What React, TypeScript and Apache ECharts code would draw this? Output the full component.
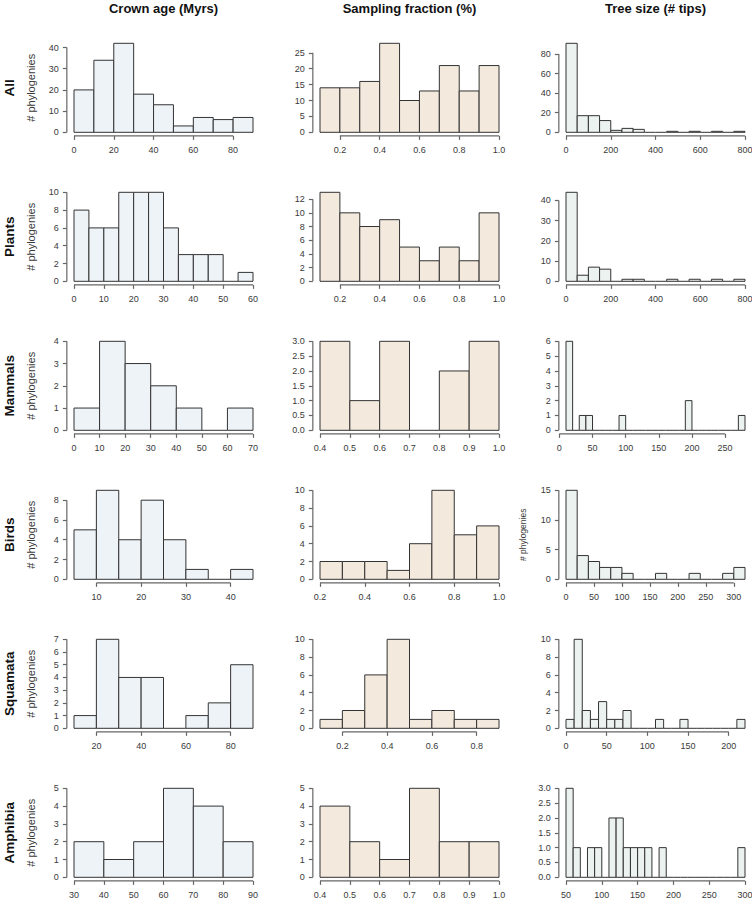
import React, { useEffect, useRef } from "react";
import * as echarts from "echarts";

const rowNames = ["All", "Plants", "Mammals", "Birds", "Squamata", "Amphibia"];
const colTitles = ["Crown age (Myrs)", "Sampling fraction (%)", "Tree size (# tips)"];
const yLabel = "# phylogenies";

// ---------- Crown age ----------
const crownAllBreaks = [0, 10, 20, 30, 40, 50, 60, 70, 80, 90];
const crownAllCounts = [20, 34, 42, 18, 13, 3, 7, 6, 7];
const crownAllXTicks = [0, 20, 40, 60, 80];
const crownAllYTicks = [0, 10, 20, 30, 40];

const crownPlantsBreaks = [0, 5, 10, 15, 20, 25, 30, 35, 40, 45, 50, 55, 60];
const crownPlantsCounts = [8, 6, 6, 10, 10, 10, 6, 3, 3, 3, 0, 1];
const crownPlantsXTicks = [0, 10, 20, 30, 40, 50, 60];
const crownPlantsYTicks = [0, 2, 4, 6, 8, 10];

const crownMammalsBreaks = [0, 10, 20, 30, 40, 50, 60, 70];
const crownMammalsCounts = [1, 4, 3, 2, 1, 0, 1];
const crownMammalsXTicks = [0, 10, 20, 30, 40, 50, 60, 70];
const crownMammalsYTicks = [0, 1, 2, 3, 4];

const crownBirdsBreaks = [5, 10, 15, 20, 25, 30, 35, 40, 45];
const crownBirdsCounts = [5, 9, 4, 8, 4, 1, 0, 1];
const crownBirdsXTicks = [10, 20, 30, 40];
const crownBirdsYTicks = [0, 2, 4, 6, 8];

const crownSquamataBreaks = [10, 20, 30, 40, 50, 60, 70, 80, 90];
const crownSquamataCounts = [1, 7, 4, 4, 0, 1, 2, 5];
const crownSquamataXTicks = [20, 40, 60, 80];
const crownSquamataYTicks = [0, 1, 2, 3, 4, 5, 6, 7];

const crownAmphibiaBreaks = [30, 40, 50, 60, 70, 80, 90];
const crownAmphibiaCounts = [2, 1, 2, 5, 4, 2];
const crownAmphibiaXTicks = [30, 40, 50, 60, 70, 80, 90];
const crownAmphibiaYTicks = [0, 1, 2, 3, 4, 5];

// ---------- Sampling fraction ----------
const sampAllBreaks = [0.1, 0.2, 0.3, 0.4, 0.5, 0.6, 0.7, 0.8, 0.9, 1.0];
const sampAllCounts = [14, 14, 16, 28, 10, 13, 21, 13, 21];
const sampAllXTicks = [0.2, 0.4, 0.6, 0.8, 1.0];
const sampAllYTicks = [0, 5, 10, 15, 20, 25];

const sampPlantsBreaks = [0.1, 0.2, 0.3, 0.4, 0.5, 0.6, 0.7, 0.8, 0.9, 1.0];
const sampPlantsCounts = [13, 10, 8, 9, 5, 3, 5, 3, 10];
const sampPlantsXTicks = [0.2, 0.4, 0.6, 0.8, 1.0];
const sampPlantsYTicks = [0, 2, 4, 6, 8, 10, 12];

const sampMammalsBreaks = [0.4, 0.5, 0.6, 0.7, 0.8, 0.9, 1.0];
const sampMammalsCounts = [3, 1, 3, 0, 2, 3];
const sampMammalsXTicks = [0.4, 0.5, 0.6, 0.7, 0.8, 0.9, 1.0];
const sampMammalsYTicks = [0, 0.5, 1, 1.5, 2, 2.5, 3];

const sampBirdsBreaks = [0.2, 0.3, 0.4, 0.5, 0.6, 0.7, 0.8, 0.9, 1.0];
const sampBirdsCounts = [2, 2, 2, 1, 4, 10, 5, 6];
const sampBirdsXTicks = [0.2, 0.4, 0.6, 0.8, 1.0];
const sampBirdsYTicks = [0, 2, 4, 6, 8, 10];

const sampSquamataBreaks = [0.1, 0.2, 0.3, 0.4, 0.5, 0.6, 0.7, 0.8, 0.9];
const sampSquamataCounts = [1, 2, 6, 10, 1, 2, 1, 1];
const sampSquamataXTicks = [0.2, 0.4, 0.6, 0.8];
const sampSquamataYTicks = [0, 2, 4, 6, 8, 10];

const sampAmphibiaBreaks = [0.4, 0.5, 0.6, 0.7, 0.8, 0.9, 1.0];
const sampAmphibiaCounts = [4, 2, 1, 5, 2, 2];
const sampAmphibiaXTicks = [0.4, 0.5, 0.6, 0.7, 0.8, 0.9, 1.0];
const sampAmphibiaYTicks = [0, 1, 2, 3, 4, 5];

// ---------- Tree size ----------
const treeAllBreaks = [0, 50, 100, 150, 200, 250, 300, 350, 400, 450, 500, 550, 600, 650, 700, 750, 800];
const treeAllCounts = [91, 17, 17, 12, 2, 4, 3, 0, 0, 1, 0, 1, 0, 1, 0, 1];
const treeAllXTicks = [0, 200, 400, 600, 800];
const treeAllYTicks = [0, 20, 40, 60, 80];

const treePlantsBreaks = [0, 50, 100, 150, 200, 250, 300, 350, 400, 450, 500, 550, 600, 650, 700, 750, 800];
const treePlantsCounts = [44, 3, 7, 6, 0, 1, 1, 0, 0, 1, 0, 1, 0, 1, 0, 1];
const treePlantsXTicks = [0, 200, 400, 600, 800];
const treePlantsYTicks = [0, 10, 20, 30, 40];

const treeMammalsBreaks = [10, 20, 30, 40, 50, 60, 70, 80, 90, 100, 110, 120, 130, 140, 150, 160, 170, 180, 190, 200, 210, 220, 230, 240, 250, 260, 270, 280];
const treeMammalsCounts = [6, 0, 1, 1, 0, 0, 0, 0, 1, 0, 0, 0, 0, 0, 0, 0, 0, 0, 2, 0, 0, 0, 0, 0, 0, 0, 1];
const treeMammalsXTicks = [0, 50, 100, 150, 200, 250];
const treeMammalsYTicks = [0, 1, 2, 3, 4, 5, 6];

const treeBirdsBreaks = [0, 20, 40, 60, 80, 100, 120, 140, 160, 180, 200, 220, 240, 260, 280, 300, 320];
const treeBirdsCounts = [15, 4, 3, 2, 2, 1, 0, 0, 1, 0, 0, 1, 0, 0, 1, 2];
const treeBirdsXTicks = [0, 50, 100, 150, 200, 250, 300];
const treeBirdsYTicks = [0, 5, 10, 15];

const treeSquamataBreaks = [0, 10, 20, 30, 40, 50, 60, 70, 80, 90, 100, 110, 120, 130, 140, 150, 160, 170, 180, 190, 200, 210, 220];
const treeSquamataCounts = [1, 10, 2, 1, 3, 1, 1, 2, 0, 0, 0, 1, 0, 0, 1, 0, 0, 0, 0, 0, 0, 1];
const treeSquamataXTicks = [0, 50, 100, 150, 200];
const treeSquamataYTicks = [0, 2, 4, 6, 8, 10];

const treeAmphibiaBreaks = [50, 60, 70, 80, 90, 100, 110, 120, 130, 140, 150, 160, 170, 180, 190, 200, 210, 220, 230, 240, 250, 260, 270, 280, 290, 300];
const treeAmphibiaCounts = [3, 1, 0, 1, 1, 0, 2, 2, 1, 1, 1, 1, 0, 1, 0, 0, 0, 0, 0, 0, 0, 0, 0, 0, 1];
const treeAmphibiaXTicks = [50, 100, 150, 200, 250, 300];
const treeAmphibiaYTicks = [0, 0.5, 1, 1.5, 2, 2.5, 3];

type Panel = { breaks: number[]; counts: number[]; xTicks: number[]; yTicks: number[] };
const P = (breaks: number[], counts: number[], xTicks: number[], yTicks: number[]): Panel => ({ breaks, counts, xTicks, yTicks });

const panels: Panel[][] = [
  [P(crownAllBreaks, crownAllCounts, crownAllXTicks, crownAllYTicks), P(sampAllBreaks, sampAllCounts, sampAllXTicks, sampAllYTicks), P(treeAllBreaks, treeAllCounts, treeAllXTicks, treeAllYTicks)],
  [P(crownPlantsBreaks, crownPlantsCounts, crownPlantsXTicks, crownPlantsYTicks), P(sampPlantsBreaks, sampPlantsCounts, sampPlantsXTicks, sampPlantsYTicks), P(treePlantsBreaks, treePlantsCounts, treePlantsXTicks, treePlantsYTicks)],
  [P(crownMammalsBreaks, crownMammalsCounts, crownMammalsXTicks, crownMammalsYTicks), P(sampMammalsBreaks, sampMammalsCounts, sampMammalsXTicks, sampMammalsYTicks), P(treeMammalsBreaks, treeMammalsCounts, treeMammalsXTicks, treeMammalsYTicks)],
  [P(crownBirdsBreaks, crownBirdsCounts, crownBirdsXTicks, crownBirdsYTicks), P(sampBirdsBreaks, sampBirdsCounts, sampBirdsXTicks, sampBirdsYTicks), P(treeBirdsBreaks, treeBirdsCounts, treeBirdsXTicks, treeBirdsYTicks)],
  [P(crownSquamataBreaks, crownSquamataCounts, crownSquamataXTicks, crownSquamataYTicks), P(sampSquamataBreaks, sampSquamataCounts, sampSquamataXTicks, sampSquamataYTicks), P(treeSquamataBreaks, treeSquamataCounts, treeSquamataXTicks, treeSquamataYTicks)],
  [P(crownAmphibiaBreaks, crownAmphibiaCounts, crownAmphibiaXTicks, crownAmphibiaYTicks), P(sampAmphibiaBreaks, sampAmphibiaCounts, sampAmphibiaXTicks, sampAmphibiaYTicks), P(treeAmphibiaBreaks, treeAmphibiaCounts, treeAmphibiaXTicks, treeAmphibiaYTicks)],
];

// ---------- styles / layout ----------
const FONT = "'Liberation Sans', Arial, Helvetica, sans-serif";
const colFills = ["#EEF3F8", "#F3E9DD", "#EBF2EF"];
const BAR_STROKE = "#333333";
const AXIS_COLOR = "#666666";
const LABEL_COLOR = "#3a3a3a";

const COL_X0 = 74;
const COL_STEP = 246;
const DATA_W = 179;
const ROW_Y0 = 132.3;
const ROW_STEP = 149;
const DATA_H = 89;

function decimalsOf(ticks: number[]) {
  let d = 0;
  for (const t of ticks) {
    const s = String(t);
    const i = s.indexOf(".");
    if (i >= 0) d = Math.max(d, s.length - i - 1);
  }
  return d;
}

function buildOption() {
  const grid: any[] = [];
  const xAxis: any[] = [];
  const yAxis: any[] = [];
  const series: any[] = [];
  const graphic: any[] = [];

  panels.forEach((row, r) => {
    row.forEach((p, c) => {
      const idx = grid.length;
      const gLeft = COL_X0 + c * COL_STEP - 0.04 * DATA_W;
      const gTop = ROW_Y0 + r * ROW_STEP - DATA_H - 0.04 * DATA_H;
      grid.push({ left: gLeft, top: gTop, width: 1.08 * DATA_W, height: 1.08 * DATA_H, containLabel: false, outerBoundsMode: "none" });

      const b0 = p.breaks[0];
      const bn = p.breaks[p.breaks.length - 1];
      const xMin = b0 - 0.04 * (bn - b0);
      const xMax = bn + 0.04 * (bn - b0);
      const yTop = Math.max(...p.counts);
      const yMin = -0.04 * yTop;
      const yMax = 1.04 * yTop;
      const xd = decimalsOf(p.xTicks);
      const yd = decimalsOf(p.yTicks);

      xAxis.push({
        type: "value", gridIndex: idx, min: xMin, max: xMax,
        axisLine: { show: false, onZero: false },
        splitLine: { show: false },
        axisTick: { show: true, customValues: p.xTicks, length: 4, lineStyle: { color: AXIS_COLOR, width: 1.2 } },
        axisLabel: { customValues: p.xTicks, formatter: (v: number) => v.toFixed(xd), margin: 10, fontSize: 9, color: LABEL_COLOR, fontFamily: FONT },
      });
      yAxis.push({
        type: "value", gridIndex: idx, min: yMin, max: yMax,
        axisLine: { show: false, onZero: false },
        splitLine: { show: false },
        axisTick: { show: true, customValues: p.yTicks, length: 4, lineStyle: { color: AXIS_COLOR, width: 1.2 } },
        axisLabel: { customValues: p.yTicks, formatter: (v: number) => v.toFixed(yd), margin: 8, fontSize: 9, color: LABEL_COLOR, fontFamily: FONT },
      });

      const fill = colFills[c];
      series.push({
        type: "custom", xAxisIndex: idx, yAxisIndex: idx, silent: true,
        data: p.counts.map((cnt, k) => [p.breaks[k], p.breaks[k + 1], cnt]),
        renderItem: (_params: any, api: any) => {
          const x0 = api.value(0), x1 = api.value(1), cnt = api.value(2);
          const a = api.coord([x0, 0]);
          const b = api.coord([x1, cnt]);
          if (cnt === 0) {
            return { type: "line", shape: { x1: a[0], y1: a[1], x2: b[0], y2: a[1] }, style: { stroke: BAR_STROKE, lineWidth: 1 } };
          }
          return { type: "rect", shape: { x: a[0], y: b[1], width: b[0] - a[0], height: a[1] - b[1] }, style: { fill, stroke: BAR_STROKE, lineWidth: 1 } };
        },
      });
      series.push({
        type: "custom", xAxisIndex: idx, yAxisIndex: idx, silent: true,
        data: [
          [0, p.xTicks[0], p.xTicks[p.xTicks.length - 1]],
          [1, p.yTicks[0], p.yTicks[p.yTicks.length - 1]],
        ],
        renderItem: (_params: any, api: any) => {
          const kind = api.value(0), s = api.value(1), e = api.value(2);
          const a = kind === 0 ? api.coord([s, yMin]) : api.coord([xMin, s]);
          const b = kind === 0 ? api.coord([e, yMin]) : api.coord([xMin, e]);
          return { type: "line", shape: { x1: a[0], y1: a[1], x2: b[0], y2: b[1] }, style: { stroke: AXIS_COLOR, lineWidth: 1.2 } };
        },
      });

      const cy = gTop + 0.54 * DATA_H;
      if (c === 0) {
        graphic.push({
          type: "text", x: 31, y: cy, rotation: Math.PI / 2,
          style: { text: yLabel, font: `11px ${FONT}`, fill: LABEL_COLOR, align: "center", verticalAlign: "middle", textAlign: "center", textVerticalAlign: "middle" },
        });
      }
      if (r === 3 && c === 2) {
        graphic.push({
          type: "text", x: 522.7, y: cy, rotation: Math.PI / 2,
          style: { text: yLabel, font: `8.5px ${FONT}`, fill: LABEL_COLOR, align: "center", verticalAlign: "middle", textAlign: "center", textVerticalAlign: "middle" },
        });
      }
    });
    const cyRow = ROW_Y0 + r * ROW_STEP - DATA_H / 2;
    graphic.push({
      type: "text", x: 9, y: cyRow, rotation: Math.PI / 2,
      style: { text: rowNames[r], font: `bold 13.5px ${FONT}`, fill: "#111111", align: "center", verticalAlign: "middle", textAlign: "center", textVerticalAlign: "middle" },
    });
  });

  colTitles.forEach((t, c) => {
    graphic.push({
      type: "text", x: COL_X0 + c * COL_STEP + DATA_W / 2, y: 8,
      style: { text: t, font: `bold 13px ${FONT}`, fill: "#111111", align: "center", verticalAlign: "middle", textAlign: "center", textVerticalAlign: "middle" },
    });
  });

  return { animation: false, backgroundColor: "#ffffff", grid, xAxis, yAxis, series, graphic };
}

export default function App() {
  const ref = useRef<HTMLDivElement>(null);
  useEffect(() => {
    document.body.style.margin = "0";
    if (!ref.current) return;
    const chart = echarts.init(ref.current, undefined, { renderer: "svg" });
    chart.setOption(buildOption() as any);
    return () => chart.dispose();
  }, []);
  return <div ref={ref} style={{ position: "absolute", left: 0, top: 0, width: 752, height: 901 }} />;
}
